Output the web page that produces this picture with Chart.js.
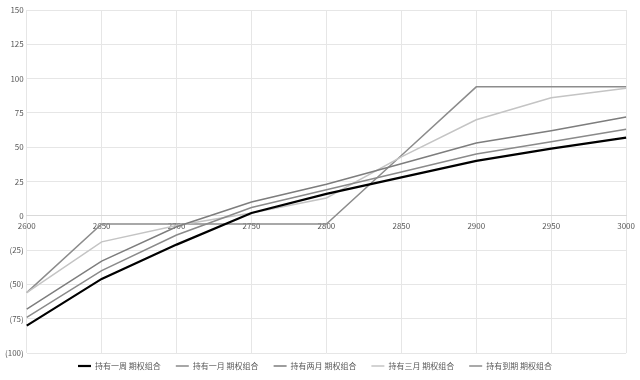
<!DOCTYPE html>
<html>
<head>
<meta charset="utf-8">
<script src="https://cdn.jsdelivr.net/npm/chart.js@4/dist/chart.umd.min.js"></script>
<style>
  html, body { margin: 0; padding: 0; background: #fff; }
  #wrap { width: 640px; height: 380px; }
</style>
</head>
<body>
<div id="wrap"><canvas id="myChart" width="640" height="380"></canvas></div>
<script>
// price points on the x axis
const prices = ['2600', '2650', '2700', '2750', '2800', '2850', '2900', '2950', '3000'];

// portfolio value per holding period
const holdWeek    = [-80, -46, -21, 2, 16, 28, 40, 49, 57];
const holdMonth   = [-74, -40, -14, 6, 19, 32, 45, 54, 63];
const holdTwo     = [-68, -33, -8, 10, 23, 38, 53, 62, 72];
const holdThree   = [-56, -19, -7, 2, 13, 43, 70, 86, 93];
const holdExpiry  = [-56, -6, -6, -6, -6, 44, 94, 94, 94];

const seriesNames = ['持有一周 期权组合', '持有一月 期权组合', '持有两月 期权组合', '持有三月 期权组合', '持有到期 期权组合'];

const yTicks = { min: -100, max: 150, step: 25 };

const fontFamily = "'Noto Sans CJK SC', 'DejaVu Sans', sans-serif";

function line(label, data, color, width) {
  return {
    label: label,
    data: data,
    borderColor: color,
    backgroundColor: color,
    borderWidth: width,
    pointRadius: 0,
    tension: 0,
    fill: false
  };
}

// keep the legend strip short and lift it a bit, like the original
const legendTweak = {
  id: 'legendTweak',
  beforeInit(chart) {
    const legend = chart.legend;
    const fit = legend.fit;
    legend.fit = function () {
      fit.call(this);
      this.height = 27;
    };
    const draw = legend.draw;
    legend.draw = function () {
      const c = this.ctx;
      c.save();
      c.translate(0, -6);
      draw.call(this);
      c.restore();
    };
  }
};

const ctx = document.getElementById('myChart').getContext('2d');

new Chart(ctx, {
  type: 'line',
  data: {
    labels: prices,
    datasets: [
      line(seriesNames[0], holdWeek, '#000000', 2.2),
      line(seriesNames[1], holdMonth, '#8a8a8a', 1.5),
      line(seriesNames[2], holdTwo, '#7d7d7d', 1.5),
      line(seriesNames[3], holdThree, '#c4c4c4', 1.5),
      line(seriesNames[4], holdExpiry, '#8c8c8c', 1.5)
    ]
  },
  options: {
    responsive: false,
    animation: false,
    layout: { padding: { top: 10, right: 12, left: 2, bottom: 0 } },
    plugins: {
      legend: {
        position: 'bottom',
        labels: {
          usePointStyle: true,
          pointStyle: 'line',
          pointStyleWidth: 13,
          boxHeight: 8,
          padding: 15,
          color: '#595959',
          font: { family: fontFamily, size: 8 }
        }
      },
      tooltip: { enabled: false }
    },
    scales: {
      x: {
        type: 'category',
        offset: false,
        position: { y: 0 },
        grid: { color: '#e6e6e6', drawTicks: false },
        border: { display: true, color: '#d9d9d9' },
        ticks: {
          color: '#595959',
          padding: 5,
          maxRotation: 0,
          font: { family: fontFamily, size: 8 }
        }
      },
      y: {
        min: yTicks.min,
        max: yTicks.max,
        grid: { color: '#e6e6e6', drawTicks: false },
        border: { display: false },
        ticks: {
          stepSize: yTicks.step,
          color: '#595959',
          padding: 3,
          font: { family: fontFamily, size: 8 },
          callback: v => v < 0 ? '(' + Math.abs(v) + ')' : String(v)
        }
      }
    }
  },
  plugins: [legendTweak]
});
</script>
</body>
</html>
